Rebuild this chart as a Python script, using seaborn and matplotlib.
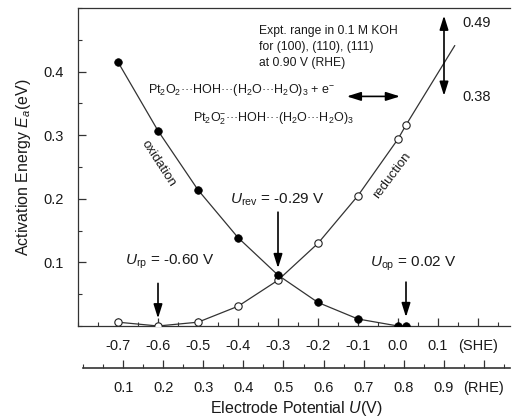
import matplotlib
matplotlib.use("Agg")
import matplotlib.pyplot as plt
import seaborn as sns
import pandas as pd
import numpy as np
from matplotlib.ticker import MultipleLocator, FixedLocator

# ---------------- data ----------------
ox_u = [-0.7, -0.6, -0.5, -0.4, -0.3, -0.2, -0.1, 0.0, 0.02]
ox_e = [0.415, 0.307, 0.214, 0.139, 0.080, 0.037, 0.011, 0.0, 0.0]
red_u = [-0.7, -0.6, -0.5, -0.4, -0.3, -0.2, -0.1, 0.0, 0.02]
red_e = [0.006, 0.0, 0.006, 0.031, 0.072, 0.130, 0.205, 0.294, 0.316]
red_end_u = [0.02, 0.142]
red_end_e = [0.316, 0.441]
she_ticks = [-0.7, -0.6, -0.5, -0.4, -0.3, -0.2, -0.1, 0.0, 0.1, 0.2]
she_labels = ["-0.7", "-0.6", "-0.5", "-0.4", "-0.3", "-0.2", "-0.1", "0.0", "0.1", "(SHE)"]
rhe_ticks = [0.1, 0.2, 0.3, 0.4, 0.5, 0.6, 0.7, 0.8, 0.9, 1.0]
rhe_labels = ["0.1", "0.2", "0.3", "0.4", "0.5", "0.6", "0.7", "0.8", "0.9", "(RHE)"]
rhe_offset = 0.785
y_ticks = [0.1, 0.2, 0.3, 0.4]

sns.set_theme(style="ticks")
plt.rcParams["font.family"] = ["Liberation Sans", "DejaVu Sans"]
plt.rcParams["mathtext.fontset"] = "custom"
plt.rcParams["mathtext.rm"] = "Liberation Sans"
plt.rcParams["mathtext.it"] = "Liberation Sans:italic"
plt.rcParams["mathtext.bf"] = "Liberation Sans:bold"

TXT = "#1a1a1a"
LINE = "#333333"

fig = plt.figure(figsize=(5.12, 4.19), dpi=100)
W, H = 512, 419
L, R, T, B = 78, 510, 8, 326
ax = fig.add_axes([L / W, 1 - B / H, (R - L) / W, (B - T) / H])

ox_df = pd.DataFrame({"U": ox_u, "E": ox_e})
red_df = pd.DataFrame({"U": red_u, "E": red_e})
ext_df = pd.DataFrame({"U": red_end_u, "E": red_end_e})

sns.lineplot(data=red_df, x="U", y="E", sort=False, estimator=None, color=LINE, lw=0.9, ax=ax)
sns.lineplot(data=ext_df, x="U", y="E", sort=False, estimator=None, color=LINE, lw=0.9, ax=ax)
sns.lineplot(data=ox_df, x="U", y="E", sort=False, estimator=None, color=LINE, lw=0.9, ax=ax)
sns.scatterplot(data=red_df, x="U", y="E", marker="o", s=28, facecolor="white",
                edgecolor="#222222", linewidth=0.8, ax=ax, zorder=3)
sns.scatterplot(data=ox_df, x="U", y="E", marker="o", s=30, color="black",
                edgecolor="black", linewidth=0.5, ax=ax, zorder=4)

ax.set_xlim(-0.8, 0.28)
ax.set_ylim(0, 0.5)
ax.set_xlabel("")
ax.set_ylabel("Activation Energy $E_a$(eV)", fontsize=11.5, color=TXT, labelpad=8)

ax.xaxis.set_major_locator(FixedLocator(she_ticks))
ax.set_xticklabels(she_labels)
ax.xaxis.set_minor_locator(MultipleLocator(0.05))
ax.yaxis.set_major_locator(FixedLocator(y_ticks))
ax.yaxis.set_minor_locator(MultipleLocator(0.05))
ax.tick_params(which="major", direction="in", length=6, width=0.9, colors=LINE,
               labelsize=10.5, labelcolor=TXT)
ax.tick_params(which="minor", direction="in", length=3, width=0.8, colors=LINE)
ax.tick_params(axis="x", which="major", pad=9)
ax.tick_params(axis="y", which="major", pad=10)
ax.spines["right"].set_visible(False)
for s in ["left", "top", "bottom"]:
    ax.spines[s].set_color(LINE)
    ax.spines[s].set_linewidth(0.9)

# ---- RHE axis ----
r0 = 83
ax2 = fig.add_axes([r0 / W, 1 - 368 / H, (R - r0) / W, 0.001])
ax2.set_xlim(0, 0.28 + rhe_offset)
ax2.set_yticks([])
for s in ["left", "right", "top"]:
    ax2.spines[s].set_visible(False)
ax2.spines["bottom"].set_color(LINE)
ax2.spines["bottom"].set_linewidth(1.2)
ax2.patch.set_alpha(0)
ax2.xaxis.set_major_locator(FixedLocator(rhe_ticks))
ax2.set_xticklabels(rhe_labels)
ax2.xaxis.set_minor_locator(MultipleLocator(0.05))
ax2.tick_params(which="major", direction="in", length=6, width=0.9, colors=LINE,
                labelsize=10.5, labelcolor=TXT, pad=9)
ax2.tick_params(which="minor", direction="in", length=3, width=0.8, colors=LINE)
ax2.set_xlabel("Electrode Potential $U$(V)", fontsize=11.5, color=TXT, labelpad=3)

# ---- annotations ----
hd = dict(arrowstyle="-|>,head_length=0.7,head_width=0.22", color="black", lw=1.2,
          shrinkA=0, shrinkB=0)
dd = dict(arrowstyle="<|-|>,head_length=0.7,head_width=0.22", color="black", lw=1.2,
          shrinkA=0, shrinkB=0)

ax.text(-0.348, 0.438, "Expt. range in 0.1 M KOH\nfor (100), (110), (111)\nat 0.90 V (RHE)",
        fontsize=8.7, color=TXT, va="center", ha="left", linespacing=1.45)
ax.annotate("", xy=(0.115, 0.488), xytext=(0.115, 0.362), arrowprops=dd)
ax.text(0.162, 0.476, "0.49", fontsize=10.5, color=TXT, va="center", ha="left")
ax.text(0.162, 0.360, "0.38", fontsize=10.5, color=TXT, va="center", ha="left")

dots = "\u00b7\u00b7\u00b7"
ax.text(-0.625, 0.367,
        "Pt$_2$O$_2$" + dots + "HOH" + dots + "(H$_2$O" + dots + "H$_2$O)$_3$ + e$^{-}$",
        fontsize=9.0, color=TXT, va="baseline", ha="left")
ax.text(-0.5125, 0.322,
        "Pt$_2$O$_2^{-}$" + dots + "HOH" + dots + "(H$_2$O" + dots + "H$_2$O)$_3$",
        fontsize=9.0, color=TXT, va="baseline", ha="left")
ax.annotate("", xy=(-0.128, 0.361), xytext=(0.005, 0.361), arrowprops=dd)

ax.text(-0.6, 0.255, "oxidation", fontsize=9.5, color=TXT, rotation=-57,
        ha="center", va="center", rotation_mode="anchor")
ax.text(-0.015, 0.237, "reduction", fontsize=9.5, color=TXT, rotation=53,
        ha="center", va="center", rotation_mode="anchor")

ax.text(-0.42, 0.198, "$U_{\\rm rev}$ = -0.29 V", fontsize=11, color=TXT, va="center", ha="left")
ax.annotate("", xy=(-0.3, 0.091), xytext=(-0.3, 0.179), arrowprops=hd)

ax.text(-0.683, 0.101, "$U_{\\rm rp}$ = -0.60 V", fontsize=11, color=TXT, va="center", ha="left")
ax.annotate("", xy=(-0.6, 0.012), xytext=(-0.6, 0.067), arrowprops=hd)

ax.text(-0.07, 0.098, "$U_{\\rm op}$ = 0.02 V", fontsize=11, color=TXT, va="center", ha="left")
ax.annotate("", xy=(0.02, 0.014), xytext=(0.02, 0.069), arrowprops=hd)

fig.savefig("out.png", dpi=100)
